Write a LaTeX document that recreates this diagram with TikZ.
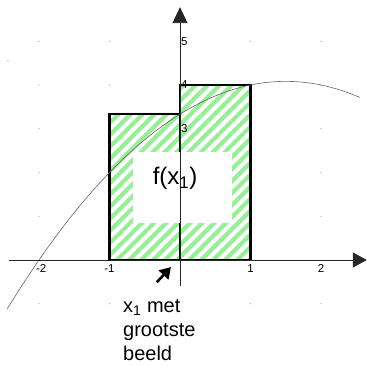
\documentclass[tikz,border=0pt]{standalone}
\usepackage{fontspec}
\setmainfont{Liberation Sans}
\usetikzlibrary{patterns.meta,arrows.meta}
\definecolor{hatchgreen}{RGB}{150,238,150}
\begin{document}
\begin{tikzpicture}[x=70.5pt,y=43.75pt,
  axis/.style={line width=0.8pt,draw=black!85},
  bar/.style={line width=2.2pt,draw=black},
  hatch/.style={pattern={Lines[angle=45,distance=8.5pt,line width=4.2pt]},pattern color=hatchgreen},
  ticklab/.style={font=\fontsize{11.5}{13}\selectfont,inner sep=1pt},
  griddot/.style={fill=black!40,circle,inner sep=0pt,minimum size=1.4pt},
  curve/.style={draw=black!60,line width=0.6pt}]
\useasboundingbox (-180pt,-105pt) rectangle (187pt,260pt);
% grid dots
\foreach \i in {-2,-1,1,2}{\foreach \j in {-1,1,2,3,4,5}{\node[griddot] (g\i\j) at (\i,\j) {};}}
\node[griddot] (gx) at (-2.44,4.55) {};
% hatched rectangles
\fill[hatch] (-1,0) rectangle (0,10/3);
\fill[hatch] (0,0) rectangle (1,4);
\draw[bar] (-1,0) rectangle (0,10/3);
\draw[bar] (0,0) rectangle (1,4);
% white label area
\node[fill=white,inner sep=0pt,minimum width=99pt,minimum height=71pt] (blank) at (0.035,1.657) {};
% curve
\draw[curve] plot[domain=-2.45:2.55,samples=80,smooth] (\x,{-(\x+2)*(\x-5)/3});
% axes
\coordinate (xs) at (-2.43,0);
\coordinate (xe) at (2.65,0);
\coordinate (ys) at (0,-0.59);
\coordinate (ye) at (0,5.78);
\draw[axis,-{Triangle[length=14pt,width=15pt]}] (xs) -- (xe);
\draw[axis,-{Triangle[length=16pt,width=15pt]}] (ys) -- (ye);
% tick labels
\node[ticklab,anchor=west] (t5) at (0,5) {5};
\node[ticklab,anchor=west] (t4) at (0,4) {4};
\node[ticklab,anchor=west] (t3) at (0,3) {3};
\node[ticklab] (tm2) at (-1.97,-0.19) {-2};
\node[ticklab] (tm1) at (-1.0,-0.19) {-1};
\node[ticklab] (tp1) at (1.0,-0.19) {1};
\node[ticklab] (tp2) at (2.0,-0.19) {2};
% label
\node[font=\fontsize{24}{28}\selectfont,inner sep=0pt] (fx) at (-0.07,1.87) {f(x\textsubscript{1})};
\node[anchor=north west,align=left,font=\fontsize{20}{24}\selectfont,inner sep=0pt] (lab) at (-57pt,-39.5pt) {x\textsubscript{1} met\\grootste\\beeld};
\coordinate (as) at (-0.33,-0.51);
\coordinate (ae) at (-0.128,-0.16);
\draw[line width=2.6pt,-{Triangle[length=11pt,width=13pt]}] (as) -- (ae);
\end{tikzpicture}
\end{document}
